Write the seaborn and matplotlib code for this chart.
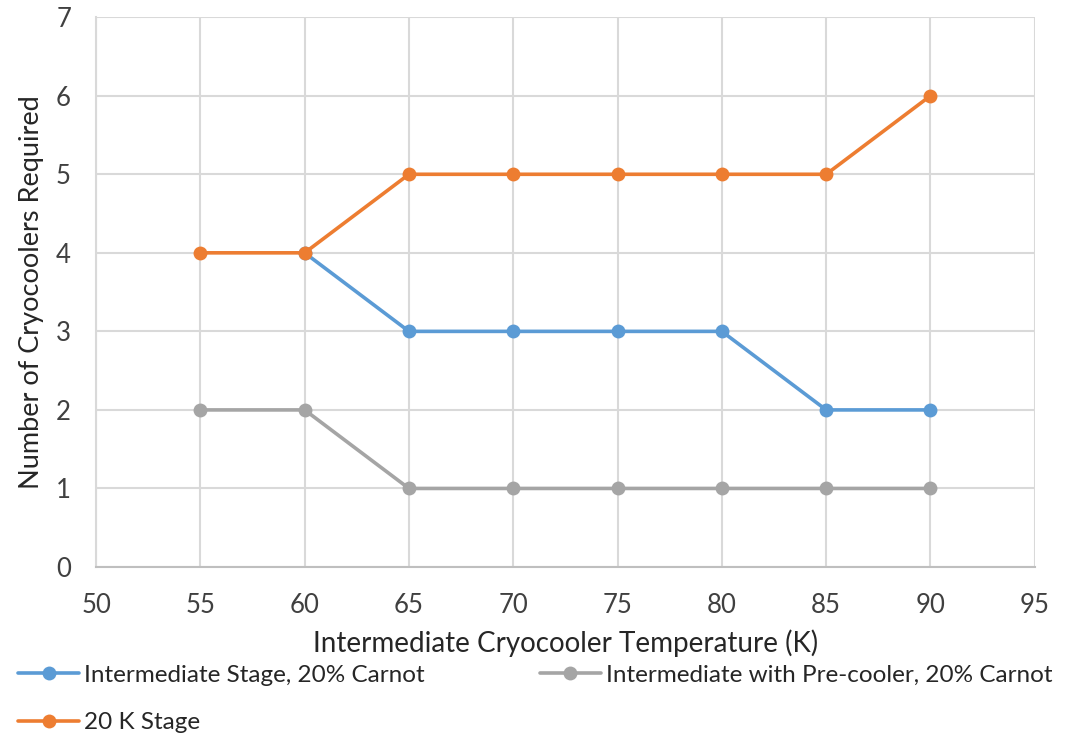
import matplotlib
matplotlib.use("Agg")
import matplotlib.pyplot as plt
import seaborn as sns
import pandas as pd

temps = [55, 60, 65, 70, 75, 80, 85, 90]
intermediate_stage = [None, 4, 3, 3, 3, 3, 2, 2]
pre_cooler = [2, 2, 1, 1, 1, 1, 1, 1]
stage_20k = [4, 4, 5, 5, 5, 5, 5, 6]

labels = ["Intermediate Stage, 20% Carnot",
          "Intermediate with Pre-cooler, 20% Carnot",
          "20 K Stage"]
colors = ["#5B9BD5", "#A5A5A5", "#ED7D31"]

sns.set_style("white")
plt.rcParams['font.family'] = ['Lato', 'DejaVu Sans']

fig = plt.figure(figsize=(10.84, 7.38), dpi=100)
ax = fig.add_axes([0.0886, 0.2317, 0.866, 0.745])

series = [intermediate_stage, pre_cooler, stage_20k]
for vals, lab, col in zip(series, labels, colors):
    df = pd.DataFrame({"x": temps, "y": vals}).dropna()
    sns.lineplot(data=df, x="x", y="y", ax=ax, color=col, marker="o",
                 markersize=10, linewidth=2.6, markeredgewidth=0, label=lab)

ax.set_xlim(50, 95)
ax.set_ylim(0, 7)
ax.set_xticks(range(50, 96, 5))
ax.set_yticks(range(0, 8))
ax.grid(True, color="#D9D9D9", linewidth=1.5)
ax.set_axisbelow(True)
for s in ["top", "right"]:
    ax.spines[s].set_visible(False)
ax.spines["left"].set_color("#D9D9D9")
ax.spines["left"].set_linewidth(1.5)
ax.spines["bottom"].set_color("#BFBFBF")
ax.spines["bottom"].set_linewidth(1.5)
ax.tick_params(axis="both", length=0, labelsize=18.5, colors="#404040")
ax.tick_params(axis="x", pad=19)
ax.tick_params(axis="y", pad=18)
ax.set_xlabel("Intermediate Cryocooler Temperature (K)", fontsize=20, color="#262626", labelpad=8)
ax.set_ylabel("Number of Cryocoolers Required", fontsize=19.5, color="#262626", labelpad=9)

ax.get_legend().remove()
h, l = ax.get_legend_handles_labels()
order = [0, 2, 1]
leg = fig.legend([h[i] for i in order], [l[i] for i in order], ncol=2,
                 loc="upper left", bbox_to_anchor=(0.008, 0.1126),
                 frameon=False, fontsize=17.5, handlelength=2.5,
                 handletextpad=0.2, columnspacing=4.75, labelspacing=1.1,
                 borderaxespad=0)
for t in leg.get_texts():
    t.set_color("#262626")

fig.savefig("out.png", dpi=100)
